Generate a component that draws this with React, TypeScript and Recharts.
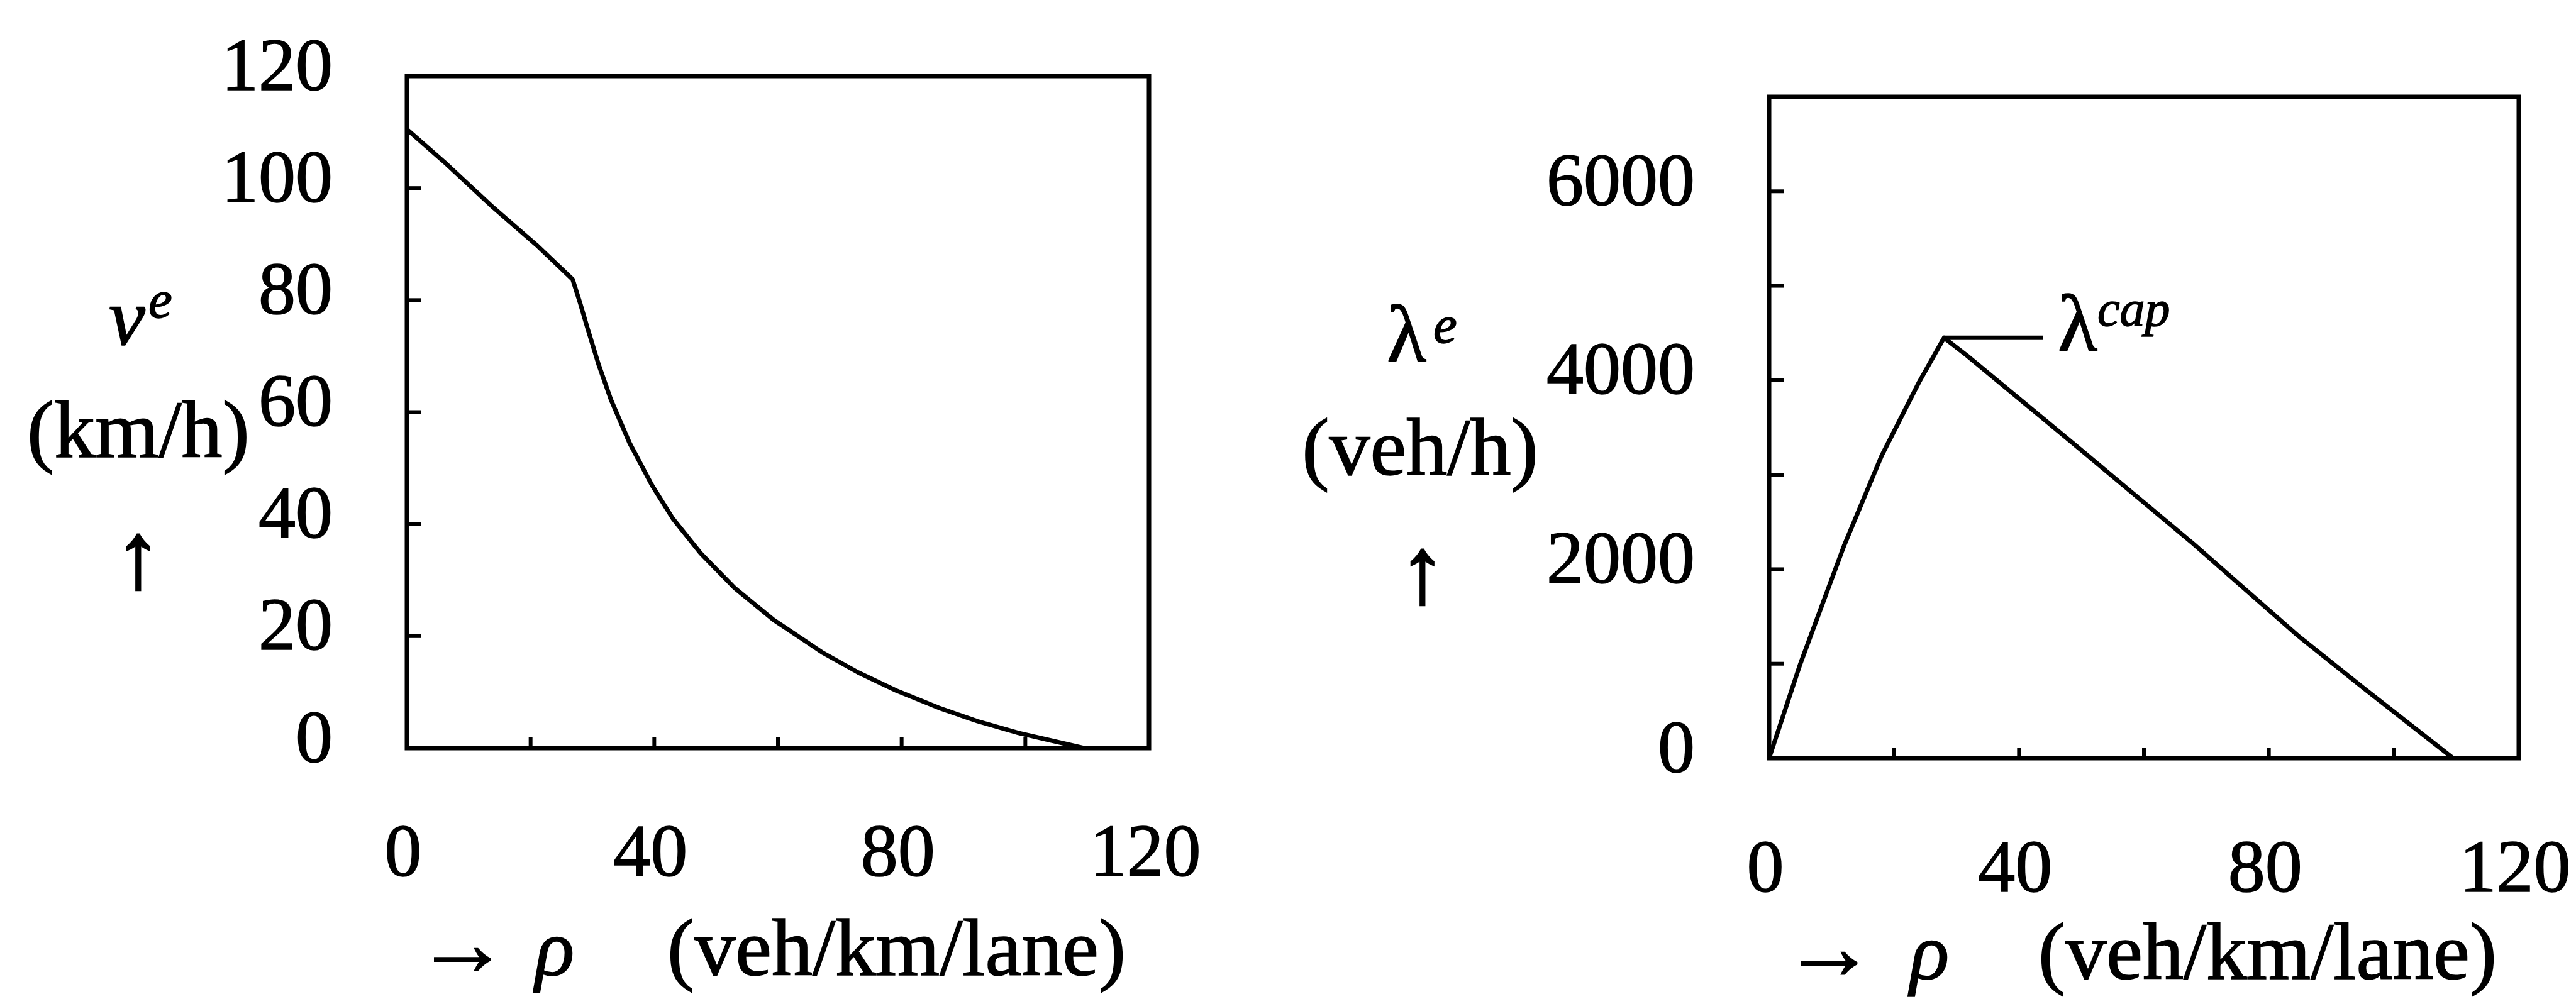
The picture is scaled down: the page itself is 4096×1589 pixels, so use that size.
import React from 'react';
import { LineChart, Line, XAxis, YAxis, ReferenceArea, ReferenceLine, ReferenceDot } from 'recharts';

// ---- data ----
const speedRho = [0, 6.3, 13.6, 21, 26.8, 28, 29.2, 31, 33, 36, 39.6, 43, 47.5, 53, 59.3, 67.3, 73, 79.1, 86, 92.3, 98.9, 104, 109.5];
const speedV = [110.5, 104.4, 96.9, 89.8, 83.7, 79.5, 75, 68.5, 62.2, 54.5, 47, 41, 34.8, 28.6, 22.9, 17, 13.5, 10.3, 7.2, 4.8, 2.7, 1.4, 0];

const flowRho = [0, 5, 12, 18, 24, 28, 31.7, 48.7, 67.9, 84.6, 95.2, 109.5];
const flowLambda = [0, 1000, 2250, 3200, 3980, 4450, 4260, 3330, 2270, 1300, 740, 0];

const rhoTicks = [0, 20, 40, 60, 80, 100, 120];
const rhoLabels = [0, 40, 80, 120];
const speedTicks = [0, 20, 40, 60, 80, 100, 120];
const speedLabels = [0, 20, 40, 60, 80, 100, 120];
const flowTicks = [0, 1000, 2000, 3000, 4000, 5000, 6000, 7000];
const flowLabels = [0, 2000, 4000, 6000];

const capRhoStart = 28;
const capRhoEnd = 43.8;
const capLambda = 4450;
const capLabelRho = 46;

const speedData = speedRho.map((r, i) => ({ rho: r, v: speedV[i] }));
const flowData = flowRho.map((r, i) => ({ rho: r, lambda: flowLambda[i] }));

const FONT = "'Liberation Serif', 'Times New Roman', 'DejaVu Serif', serif";
const TICK_FS = 118;
const TITLE_FS = 130;
const LW = 7;
const AX = 100; // axis band size
const TS = 1.6; // text stroke to mimic the heavy print

const makeYTick = (labels: number[], min: number, max: number) => (props: any) => {
  const { x, y, payload } = props;
  const v = payload.value;
  return (
    <g>
      {v > min && v < max && (
        <line x1={x} x2={x + 23} y1={y} y2={y} stroke="#000" strokeWidth={6} />
      )}
      {labels.includes(v) && (
        <text x={x - 118} y={y - 18} textAnchor="end" dominantBaseline="central"
          fontFamily={FONT} fontSize={TICK_FS} fill="#000" stroke="#000" strokeWidth={TS}>{v}</text>
      )}
    </g>
  );
};

const makeXTick = (labels: number[], min: number, max: number, dy: number) => (props: any) => {
  const { x, y, payload } = props;
  const v = payload.value;
  return (
    <g>
      {v > min && v < max && (
        <line x1={x} x2={x} y1={y} y2={y - 17} stroke="#000" strokeWidth={6} />
      )}
      {labels.includes(v) && (
        <text x={x - 6} y={y + dy} textAnchor="middle" dominantBaseline="central"
          fontFamily={FONT} fontSize={TICK_FS} fill="#000" stroke="#000" strokeWidth={TS}>{v}</text>
      )}
    </g>
  );
};

const CapLabel = (props: any) => {
  const { cx, cy } = props;
  return (
    <text x={cx + 2} y={cy + 21} fontFamily={FONT} fontSize={130} fill="#000" stroke="#000" strokeWidth={TS}>
      λ<tspan fontStyle="italic" fontSize={80} dy={-40}>cap</tspan>
    </text>
  );
};

export default function App() {
  return (
    <div style={{ position: 'absolute', left: 0, top: 0, width: 4096, height: 1589, background: '#fff' }}>
      <div style={{ position: 'absolute', left: 0, top: 0 }}>
        <LineChart width={2048} height={1589} data={speedData}
          margin={{ left: 647 - AX, right: 221, top: 121, bottom: 399 - AX }}>
          <XAxis type="number" dataKey="rho" domain={[0, 120]} ticks={rhoTicks} interval={0}
            height={AX} tickSize={0} tickMargin={0} axisLine={false} tickLine={false}
            tick={makeXTick(rhoLabels, 0, 120, 163)} allowDataOverflow />
          <YAxis type="number" domain={[0, 120]} ticks={speedTicks} interval={0}
            width={AX} tickSize={0} tickMargin={0} axisLine={false} tickLine={false}
            tick={makeYTick(speedLabels, 0, 120)} allowDataOverflow />
          <ReferenceArea x1={0} x2={120} y1={0} y2={120} fill="none" fillOpacity={0}
            stroke="#000" strokeWidth={LW} />
          <Line type="linear" dataKey="v" stroke="#000" strokeWidth={LW} dot={false}
            strokeLinejoin="round" isAnimationActive={false} />
        </LineChart>
      </div>
      <div style={{ position: 'absolute', left: 2048, top: 0 }}>
        <LineChart width={2048} height={1589} data={flowData}
          margin={{ left: 765 - AX, right: 91, top: 154, bottom: 383 - AX }}>
          <XAxis type="number" dataKey="rho" domain={[0, 120]} ticks={rhoTicks} interval={0}
            height={AX} tickSize={0} tickMargin={0} axisLine={false} tickLine={false}
            tick={makeXTick(rhoLabels, 0, 120, 172)} allowDataOverflow />
          <YAxis type="number" domain={[0, 7000]} ticks={flowTicks} interval={0}
            width={AX} tickSize={0} tickMargin={0} axisLine={false} tickLine={false}
            tick={makeYTick(flowLabels, 0, 7000)} allowDataOverflow />
          <ReferenceArea x1={0} x2={120} y1={0} y2={7000} fill="none" fillOpacity={0}
            stroke="#000" strokeWidth={LW} />
          <ReferenceLine segment={[{ x: capRhoStart, y: capLambda }, { x: capRhoEnd, y: capLambda }]}
            stroke="#000" strokeWidth={LW} />
          <ReferenceDot x={capLabelRho} y={capLambda} r={0} shape={CapLabel} />
          <Line type="linear" dataKey="lambda" stroke="#000" strokeWidth={LW} dot={false}
            strokeLinejoin="round" isAnimationActive={false} />
        </LineChart>
      </div>
      <svg width={4096} height={1589} style={{ position: 'absolute', left: 0, top: 0, pointerEvents: 'none' }}>
        <g fontFamily={FONT} fill="#000" stroke="#000" strokeWidth={TS}>
          {/* left y title */}
          <text x={173} y={548} fontStyle="italic" fontSize={TITLE_FS}>v</text>
          <text x={236} y={505} fontStyle="italic" fontSize={85}>e</text>
          <text x={220} y={727} textAnchor="middle" fontSize={TITLE_FS}>(km/h)</text>
          <text x={220} y={934} textAnchor="middle" fontSize={150} strokeWidth={3}>↑</text>
          {/* left x title */}
          <text x={660} y={1551} fontSize={150}>→</text>
          <text x={851} y={1551} fontStyle="italic" fontSize={TITLE_FS}>ρ</text>
          <text x={1061} y={1551} fontSize={TITLE_FS}>(veh/km/lane)</text>
          {/* right y title */}
          <text x={2205} y={575} fontSize={TITLE_FS}>λ</text>
          <text x={2279} y={545} fontStyle="italic" fontSize={85}>e</text>
          <text x={2258} y={755} textAnchor="middle" fontSize={TITLE_FS}>(veh/h)</text>
          <text x={2262} y={958} textAnchor="middle" fontSize={150} strokeWidth={3}>↑</text>
          {/* right x title */}
          <text x={2833} y={1557} fontSize={150}>→</text>
          <text x={3037} y={1557} fontStyle="italic" fontSize={TITLE_FS}>ρ</text>
          <text x={3241} y={1557} fontSize={TITLE_FS}>(veh/km/lane)</text>
        </g>
      </svg>
    </div>
  );
}
